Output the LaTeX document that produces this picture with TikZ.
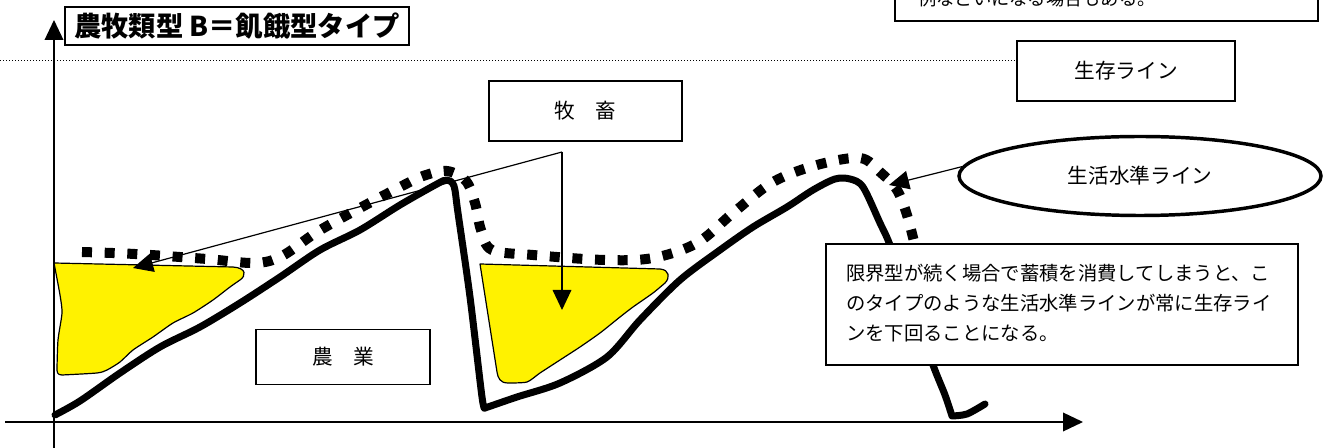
\documentclass[tikz,border=0pt]{standalone}
\usepackage{fontspec}
\setmainfont{Noto Sans CJK JP}
\usetikzlibrary{arrows.meta,shapes.geometric}
\tikzset{
  boxnode/.style={draw, fill=white, line width=1.1pt, inner sep=0pt, font=\fontsize{15.5}{18}\selectfont},
  conn/.style={line width=0.9pt, -{Triangle[length=15pt,width=14pt]}},
  axisline/.style={line width=1.1pt, -{Triangle[length=15pt,width=14pt]}},
  prodline/.style={line width=5.25pt, line join=round, line cap=round},
  liveline/.style={line width=7.5pt, line cap=butt, dash pattern=on 7.5pt off 9.5pt},
  storefill/.style={fill=yellow, draw=black, line width=0.9pt, line join=round},
  survline/.style={line width=0.75pt, dash pattern=on 0.75pt off 1.5pt}
}
\begin{document}
\begin{tikzpicture}[x=0.75pt, y=-0.75pt]
\useasboundingbox (0,0) rectangle (1332,448);
\clip (0,0) rectangle (1332,448);

% yellow stores
\draw[storefill] (54,263) -- (233,267)
  .. controls (247,268) and (246,276) .. (240,280)
  -- plot[smooth, tension=0.4] coordinates {
  (240,280) (230,287) (213,300) (193,313) (173,323)
  (153,337) (133,350) (120,362) (107,370) (97,373) (62,375)}
  .. controls (57,375) and (57,372) .. (57,368)
  -- plot[smooth, tension=0.4] coordinates {(57,368) (58,340) (62,313) (60,295) (54,263)} -- cycle;
\draw[storefill] (480,264) -- (660,269)
  .. controls (670,270) and (670,278) .. (665,283)
  -- plot[smooth, tension=0.4] coordinates {
  (665,283) (653,293) (633,307) (620,317) (600,333)
  (580,347) (560,360) (540,373) (527,382) (508,383)}
  .. controls (500,383) and (498,378) .. (497,372) -- cycle;

% production curve
\draw[prodline] plot[smooth, tension=0.5] coordinates {
  (55,415) (80,401) (120,373) (160,347) (200,327) (240,303) (280,277) (320,250)
  (360,230) (400,205) (437,184) (447,180) (454,186) (458,213) (470,297) (482,397) (485,408)}
  -- plot[smooth, tension=0.5] coordinates {
  (485,408) (517,397) (560,383) (607,357) (640,320) (680,280) (720,250) (753,227)
  (787,207) (813,190) (835,179) (850,179) (863,187) (880,223) (890,245) (912,305)
  (933,365) (945,395) (952,416)}
  -- plot[smooth, tension=0.5] coordinates {(952,416) (967,414) (985,404)};

% living standard line
\draw[liveline] plot[smooth, tension=0.55] coordinates {
  (82,252) (135,254) (207,259) (255,263) (282,256) (317,232) (360,208) (402,186)
  (423,176) (447,171) (466,181) (475,203) (481,230) (492,250) (533,255) (605,260)
  (653,258) (697,243) (733,213) (773,182) (817,165) (860,158) (880,172) (897,190)
  (907,215) (916,250)};

% axes
\coordinate (yb) at (54,448);
\coordinate (yt) at (54,20);
\coordinate (xl) at (5,422);
\coordinate (xr) at (1083,422);
\draw[axisline] (yb) -- (yt);
\draw[axisline] (xl) -- (xr);

% title
\node[boxnode, line width=1.5pt, minimum width=258pt, minimum height=28.5pt,
      font=\fontsize{20.5}{23}\selectfont\bfseries] (title) at (237,26) {農牧類型 B＝飢餓型タイプ};

% top clipped note box
\node[boxnode, minimum width=317.25pt, minimum height=45pt] (topbox) at (1106.5,-9) {};
\node[anchor=base west, inner sep=0pt, font=\fontsize{13.7}{16}\selectfont] (toptext) at (918,6) {例などいになる場合もある。};

% survival line box and dotted line
\node[boxnode, line width=1.5pt, minimum width=163.5pt, minimum height=45pt] (surv) at (1126,71) {生存ライン};
\coordinate (sl) at (0,61);
\draw[survline] (sl) -- (sl -| surv.west);

% livestock box with arrows
\node[boxnode, minimum width=144.75pt, minimum height=45pt] (boku) at (585.5,111) {牧　畜};
\coordinate (fork) at (562,152);
\coordinate (ltip) at (133,268);
\coordinate (rtip) at (562,310);
\draw[conn] (fork) -- (ltip);
\draw[conn] (fork) -- (rtip);

% agriculture box
\node[boxnode, minimum width=130.5pt, minimum height=41.25pt] (nou) at (343,357) {農　業};

% note box
\node[boxnode, minimum width=354pt, minimum height=90.75pt] (note) at (1062,304.5) {};
\node[anchor=west, align=left, inner sep=0pt, font=\fontsize{14.5}{22.5}\selectfont] (notetext) at (846,303)
  {限界型が続く場合で蓄積を消費してしまうと、こ\\のタイプのような生活水準ラインが常に生存ライ\\ンを下回ることになる。};

% ellipse
\node[ellipse, draw, fill=white, line width=2.6pt, minimum width=271.5pt, minimum height=59.25pt,
      inner sep=0pt, font=\fontsize{15.5}{18}\selectfont] (ell) at (1140,176) {生活水準ライン};
\coordinate (etip) at (889,185);
\draw[conn] (ell.177) -- (etip);
\end{tikzpicture}
\end{document}
